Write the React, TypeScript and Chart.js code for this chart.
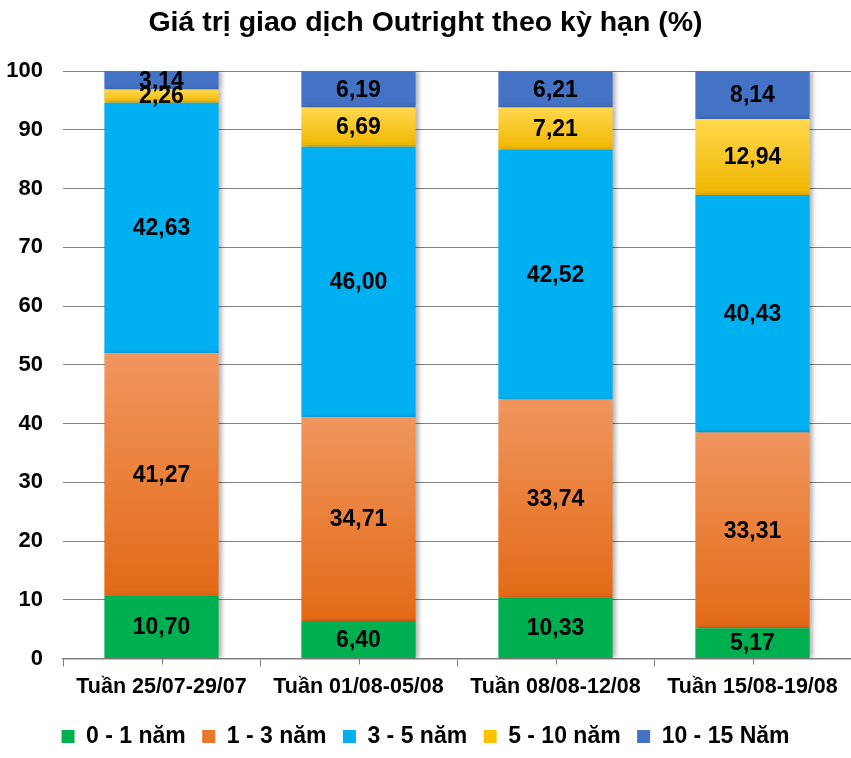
import React, { useEffect, useRef } from 'react';
import { Chart, registerables } from 'chart.js';

Chart.register(...registerables);

const titleText = 'Giá trị giao dịch Outright theo kỳ hạn (%)';
const categories = ['Tuần 25/07-29/07', 'Tuần 01/08-05/08', 'Tuần 08/08-12/08', 'Tuần 15/08-19/08'];
const seriesNames = ['0 - 1 năm', '1 - 3 năm', '3 - 5 năm', '5 - 10 năm', '10 - 15 Năm'];
const series0to1 = [10.7, 6.4, 10.33, 5.17];
const series1to3 = [41.27, 34.71, 33.74, 33.31];
const series3to5 = [42.63, 46.0, 42.52, 40.43];
const series5to10 = [2.26, 6.69, 7.21, 12.94];
const series10to15 = [3.14, 6.19, 6.21, 8.14];
const yMin = 0;
const yMax = 100;
const yStep = 10;

const seriesData = [series0to1, series1to3, series3to5, series5to10, series10to15];
const solidColors = ['#00B050', '#E8782A', '#00B0F0', '#FFC000', '#4472C4'];
const gradientStops: (string[] | null)[] = [
  null,
  ['#F0965E', '#E36A16'],
  null,
  ['#FFD84E', '#F0B600'],
  null,
];
const FONT = '"Liberation Sans", Arial, sans-serif';
const axisColor = '#808080';

const makeBg = (si: number) => (ctx: any) => {
  const solid = solidColors[si];
  const stops = gradientStops[si];
  if (!stops || ctx.type !== 'data') return solid;
  const chart = ctx.chart;
  const y = chart.scales && chart.scales.y;
  if (!y) return solid;
  const i = ctx.dataIndex;
  let base = 0;
  for (let k = 0; k < si; k++) base += seriesData[k][i];
  const top = base + seriesData[si][i];
  const y0 = y.getPixelForValue(top);
  const y1 = y.getPixelForValue(base);
  if (!isFinite(y0) || !isFinite(y1) || y0 === y1) return solid;
  const g = chart.ctx.createLinearGradient(0, y0, 0, y1);
  g.addColorStop(0, stops[0]);
  g.addColorStop(1, stops[1]);
  return g;
};

const barDecorPlugin = {
  id: 'barDecor',
  beforeDatasetsDraw(chart: any) {
    const c = chart.ctx;
    c.save();
    c.shadowColor = 'rgba(0,0,0,0.28)';
    c.shadowBlur = 4;
    c.shadowOffsetX = 3;
    c.shadowOffsetY = 0;
  },
  afterDatasetsDraw(chart: any) {
    const c = chart.ctx;
    c.restore();
    c.save();
    c.fillStyle = '#000';
    c.font = `bold 23px ${FONT}`;
    c.textAlign = 'center';
    c.textBaseline = 'middle';
    chart.data.datasets.forEach((ds: any, di: number) => {
      const meta = chart.getDatasetMeta(di);
      meta.data.forEach((el: any, i: number) => {
        const v = ds.data[i];
        const cy = (el.y + el.base) / 2;
        c.fillText(v.toFixed(2).replace('.', ','), el.x, cy + 1);
      });
    });
    c.restore();
  },
  afterDraw(chart: any) {
    const x = chart.scales.x;
    const c = chart.ctx;
    c.save();
    c.strokeStyle = axisColor;
    c.lineWidth = 1;
    categories.forEach((_, i) => {
      const px = Math.round(x.getPixelForValue(i)) + 0.5;
      c.beginPath();
      c.moveTo(px, x.top);
      c.lineTo(px, x.top + 6);
      c.stroke();
    });
    c.restore();
  },
};

export default function App() {
  const ref = useRef<HTMLCanvasElement | null>(null);
  useEffect(() => {
    document.body.style.margin = '0';
    if (!ref.current) return;
    const chart = new Chart(ref.current, {
      type: 'bar',
      data: {
        labels: categories,
        datasets: seriesNames.map((name, si) => ({
          label: name,
          data: seriesData[si],
          backgroundColor: makeBg(si),
          borderWidth: 0,
          barPercentage: 0.58,
          categoryPercentage: 1,
        })),
      },
      options: {
        animation: false,
        responsive: true,
        maintainAspectRatio: false,
        layout: { padding: { top: 0, left: 0, right: 0, bottom: 0 } },
        plugins: {
          title: {
            display: true,
            text: titleText,
            color: '#000',
            font: { family: FONT, size: 28.5, weight: 'bold' },
            padding: { top: 6, bottom: 30.8 },
          },
          legend: {
            position: 'bottom',
            labels: {
              color: '#000',
              font: { family: FONT, size: 23, weight: 'bold' },
              boxWidth: 13,
              boxHeight: 13,
              padding: 16.5,
              generateLabels: (ch: any) =>
                Chart.defaults.plugins.legend.labels.generateLabels(ch).map((l: any, i: number) => ({
                  ...l,
                  fillStyle: solidColors[i],
                  strokeStyle: solidColors[i],
                  lineWidth: 0,
                })),
            },
          },
          tooltip: { enabled: false },
        },
        scales: {
          x: {
            stacked: true,
            offset: true,
            grid: {
              offset: true,
              drawOnChartArea: false,
              drawTicks: true,
              tickLength: 8,
              color: axisColor,
            },
            border: { display: true, color: axisColor, width: 1.5 },
            ticks: {
              color: '#000',
              font: { family: FONT, size: 21.5, weight: 'bold' },
              padding: 8,
              maxRotation: 0,
              autoSkip: false,
            },
            afterFit: (s: any) => {
              s.height = 50;
            },
          },
          y: {
            stacked: true,
            min: yMin,
            max: yMax,
            grid: { drawTicks: false, color: axisColor, lineWidth: 1 },
            border: { display: false },
            ticks: {
              stepSize: yStep,
              color: '#000',
              font: { family: FONT, size: 22, weight: 'bold' },
              padding: 20,
            },
            afterFit: (s: any) => {
              s.width = 63;
            },
          },
        },
      },
      plugins: [barDecorPlugin],
    });
    return () => chart.destroy();
  }, []);
  return (
    <div style={{ position: 'fixed', left: 0, top: 0, width: 851, height: 758 }}>
      <canvas ref={ref} />
    </div>
  );
}
